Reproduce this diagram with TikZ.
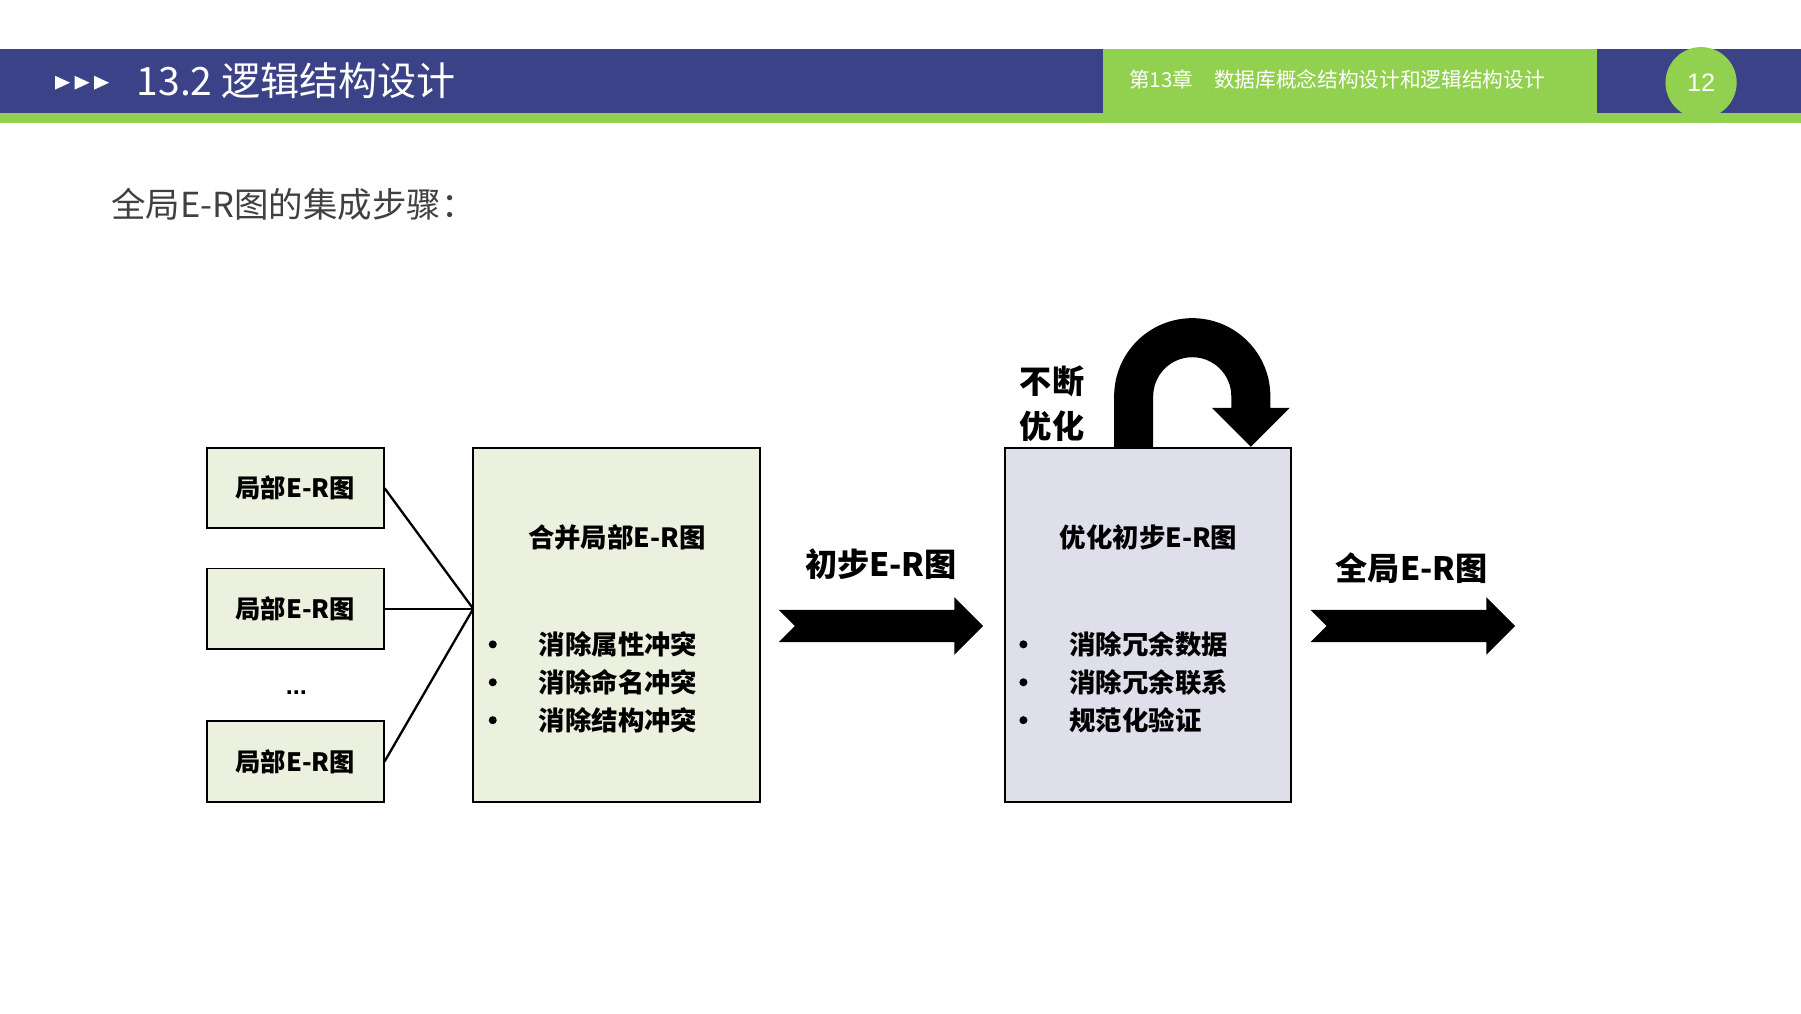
\documentclass[tikz,border=0pt]{standalone}
\usepackage{fontspec}
\setmainfont{Liberation Sans}
\newfontfamily\cjk{Noto Sans CJK SC}
\definecolor{hdrblue}{HTML}{3B4287}
\definecolor{hdrgreen}{HTML}{92D050}
\definecolor{boxgreen}{HTML}{EBF1DE}
\definecolor{boxlav}{HTML}{DFDEEB}
\definecolor{txtgray}{HTML}{404040}
\begin{document}
\begin{tikzpicture}[x=0.5pt,y=-0.5pt,
  small/.style={draw=black,line width=0.8pt,fill=boxgreen,minimum width=77pt,minimum height=35pt,font=\cjk\fontsize{11}{13}\selectfont\bfseries},
  lbl/.style={font=\cjk\fontsize{11.5}{14}\selectfont\bfseries,anchor=west},
  big/.style={font=\cjk\fontsize{14}{17}\selectfont\bfseries},
  blk/.style={fill=black}]
\useasboundingbox (0,0) rectangle (1568,882);
\fill[white] (0,0) rectangle (1568,882);
% header
\fill[hdrblue] (0,43) rectangle (1568,98);
\fill[hdrgreen] (0,98) rectangle (1568,107);
\fill[hdrgreen] (960,43) rectangle (1390,98);
\fill[hdrgreen] (1481,72) circle (31);
\node[text=white,font=\fontsize{11}{13}\selectfont] (pg) at (1481,72) {12};
\node[text=white,anchor=west,font=\cjk\fontsize{9}{11}\selectfont] (ch) at (976,69) {第13章\quad 数据库概念结构设计和逻辑结构设计};
\foreach \x in {48,65,82}{\fill[white] (\x,66) -- (\x+13,72) -- (\x,78) -- cycle;}
\node[text=white,anchor=west,font=\cjk\fontsize{17}{20}\selectfont] (title) at (112,70) {13.2 逻辑结构设计};
\node[text=txtgray,anchor=west,font=\cjk\fontsize{15}{18}\selectfont] (sub) at (90,178) {全局E-R图的集成步骤：};
% small boxes
\node[small] (a1) at (257,425) {局部E-R图};
\node[small] (a2) at (257,530) {局部E-R图};
\node[small] (a3) at (257,663) {局部E-R图};
\node[font=\bfseries\fontsize{11}{13}\selectfont] (dots) at (258,603) {...};
\coordinate (m) at (412,530);
\draw[line width=1pt] (a1.east) -- (m);
\draw[line width=1pt] (a2.east) -- (m);
\draw[line width=1pt] (a3.east) -- (m);
% big box 1
\draw[line width=0.8pt,fill=boxgreen] (412,390) rectangle (662,698);
\node[font=\cjk\fontsize{11.5}{14}\selectfont\bfseries] (t1) at (537,468) {合并局部E-R图};
\foreach \y/\t in {561/消除属性冲突,594/消除命名冲突,627/消除结构冲突}{
  \fill (429,\y) circle (3.5);
  \node[lbl] at (462,\y) {\t};}
% big box 2
\draw[line width=0.8pt,fill=boxlav] (875,390) rectangle (1124,698);
\node[font=\cjk\fontsize{11.5}{14}\selectfont\bfseries] (t2) at (1000,468) {优化初步E-R图};
\foreach \y/\t in {561/消除冗余数据,594/消除冗余联系,627/规范化验证}{
  \fill (891,\y) circle (3.5);
  \node[lbl] at (924,\y) {\t};}
% arrows
\fill[blk] (678,531) -- (831,531) -- (831,520) -- (856,545) -- (831,570) -- (831,559) -- (678,559) -- (692,545) -- cycle;
\fill[blk] (1141,531) -- (1294,531) -- (1294,520) -- (1319,545) -- (1294,570) -- (1294,559) -- (1141,559) -- (1155,545) -- cycle;
\node[big] (l1) at (767,491) {初步E-R图};
\node[big] (l2) at (1229,495) {全局E-R图};
% U-turn
\fill[blk] (970,390) -- (970,345) arc (180:360:68) -- (1106,355) -- (1123,355) -- (1089,389) -- (1055,355) -- (1072,355) -- (1072,345) arc (360:180:34) -- (1004,390) -- cycle;
\node[big] (u1) at (916,332) {不断};
\node[big] (u2) at (916,371) {优化};
\end{tikzpicture}
\end{document}
